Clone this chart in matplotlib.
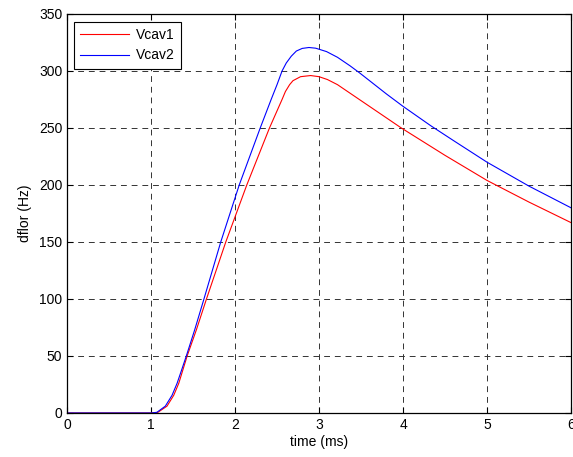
import matplotlib.pyplot as plt
import numpy as np

plt.rcParams['font.family'] = ['Liberation Sans', 'DejaVu Sans']

# time axis in ms, frequency shift in Hz for each cavity
t_vcav1 = [0, 1.0, 1.08, 1.19, 1.27, 1.33, 1.38, 1.43, 1.54, 1.66, 1.89, 2.14, 2.41, 2.50,
           2.56, 2.60, 2.65, 2.69, 2.78, 2.90, 3.0, 3.10, 3.22, 3.35, 3.48, 3.61, 3.98, 4.5,
           5.0, 5.5, 6.0]
vcav1 = [0, 0, 0.5, 6, 15.5, 26, 38, 50, 73, 100, 150, 200, 250, 265,
         275, 282, 288, 291.5, 295, 296, 295, 292.5, 288, 281.5, 275, 268.5, 250, 226,
         204, 185, 167]

t_vcav2 = [0, 1.0, 1.07, 1.17, 1.25, 1.31, 1.37, 1.42, 1.52, 1.63, 1.83, 2.05, 2.30, 2.43,
           2.50, 2.56, 2.61, 2.67, 2.73, 2.80, 2.88, 2.96, 3.09, 3.22, 3.37, 3.48, 3.61,
           3.8, 4.0, 4.33, 4.6, 5.0, 5.5, 6.0]
vcav2 = [0, 0, 0.6, 6, 15.5, 26, 39, 50, 73, 100, 150, 200, 250, 275,
         288, 300, 307, 313, 317.5, 319.8, 320.6, 320, 317, 312, 304.5, 298.5, 291,
         280, 269, 252, 239, 220, 199, 180]

fig = plt.figure(figsize=(5.73, 4.57), dpi=100)
ax = fig.add_axes([0.117, 0.0963, 0.8795, 0.8731])

ax.plot(t_vcav1, vcav1, color='#ff0000', lw=0.8, label='Vcav1')
ax.plot(t_vcav2, vcav2, color='#0000ff', lw=0.8, label='Vcav2')

ax.set_xlim(0, 6)
ax.set_ylim(0, 350)
ax.set_xticks(np.arange(0, 7, 1))
ax.set_yticks(np.arange(0, 351, 50))
ax.grid(True, color='0.2', linestyle=(0, (6, 5)), lw=0.7)
ax.tick_params(direction='in', top=True, right=True, labelsize=10, length=4, width=0.8)
for s in ax.spines.values():
    s.set_linewidth(0.9)

ax.set_xlabel('time (ms)', fontsize=10, labelpad=2)
ax.set_ylabel('dflor (Hz)', fontsize=10, labelpad=5)

leg = ax.legend(loc='upper left', bbox_to_anchor=(0.014, 0.98), borderaxespad=0,
                fontsize=10, fancybox=False, framealpha=1, edgecolor='k',
                handlelength=3.5, handletextpad=0.5, borderpad=0.45, labelspacing=0.45)
leg.get_frame().set_linewidth(0.8)

fig.savefig('out.png', dpi=100)
